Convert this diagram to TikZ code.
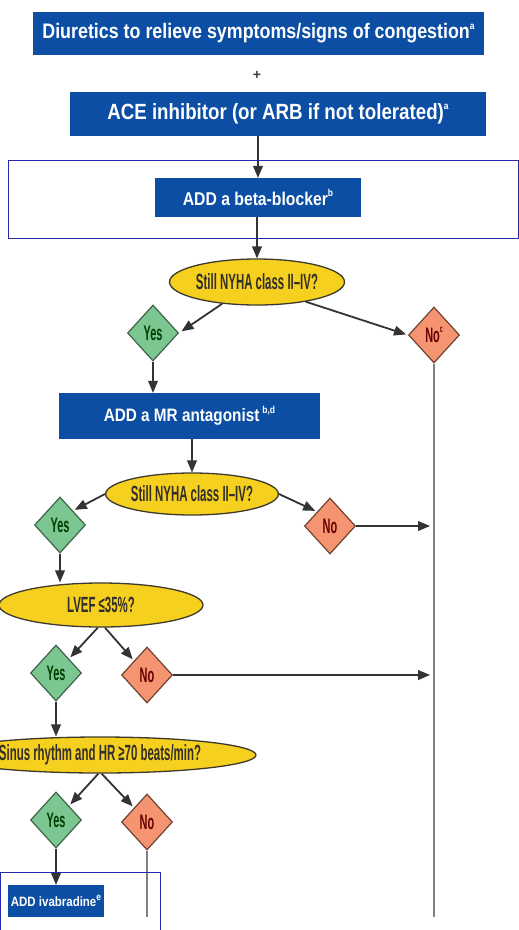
\documentclass[tikz,border=0pt]{standalone}
\usepackage{fontspec}
\usepackage{xcolor}
\setmainfont{Liberation Sans}
\newfontfamily\boxfont{Liberation Sans}[FakeStretch=0.85]
\newfontfamily\askfont{Liberation Sans}[FakeStretch=0.52]
\newcommand{\fn}[1]{\raisebox{0.45em}{\fontsize{10}{10}\selectfont #1}}
\usetikzlibrary{arrows,shapes.geometric}

\definecolor{escblue}{RGB}{12,78,164}
\definecolor{escyellow}{RGB}{246,208,30}
\definecolor{escgreen}{RGB}{124,198,146}
\definecolor{escorange}{RGB}{245,148,112}
\definecolor{markblue}{RGB}{40,40,170}

\begin{document}
\begin{tikzpicture}[x=1pt,y=-1pt]
\tikzset{box/.style={fill=escblue,text=white,inner sep=0pt}}
\tikzset{ask/.style={ellipse,draw=black!75!olive,line width=1.3pt,fill=escyellow,text=black!85!olive,inner sep=0pt,font=\askfont\bfseries\fontsize{22}{22}\selectfont}}
\tikzset{yes/.style={diamond,draw=black!50!escgreen,line width=1.2pt,fill=escgreen,text=green!25!black,inner sep=0pt,minimum width=51pt,minimum height=56pt,font=\askfont\bfseries\fontsize{21}{21}\selectfont}}
\tikzset{no/.style={diamond,draw=black!55!escorange,line width=1.2pt,fill=escorange,text=red!40!black,inner sep=0pt,minimum width=51pt,minimum height=56pt,font=\askfont\bfseries\fontsize{21}{21}\selectfont}}
\tikzset{flow/.style={-triangle 45,line width=1.8pt,draw=black!80}}
\tikzset{rail/.style={line width=1.5pt,draw=black!50}}
\tikzset{outline/.style={draw=markblue,line width=1pt}}

\clip (0,0) rectangle (519,930);

\node[box,minimum width=451pt,minimum height=43pt,font=\boxfont\bfseries\fontsize{21}{21}\selectfont] (diur) at (258.5,33.5) {Diuretics to relieve symptoms/signs of congestion\fn{a}};
\node[font=\bfseries\fontsize{14}{14}\selectfont,text=black!75] (plus) at (257,75) {+};
\node[box,minimum width=416pt,minimum height=44pt,font=\boxfont\bfseries\fontsize{22}{22}\selectfont] (ace) at (278,114) {ACE inhibitor (or ARB if not tolerated)\fn{a}};
\node[box,minimum width=206pt,minimum height=39pt,font=\boxfont\bfseries\fontsize{18.5}{18.5}\selectfont] (beta) at (258,197.5) {ADD a beta-blocker\fn{b}};
\node[ask,minimum width=175pt,minimum height=46pt] (ask1) at (257,282) {Still NYHA class II–IV?};
\node[yes] (yes1) at (153,333) {Yes};
\node[no] (no1) at (434,335) {No\fn{c}};
\node[box,minimum width=261pt,minimum height=46pt,font=\boxfont\bfseries\fontsize{18}{18}\selectfont] (mra) at (189.5,416) {ADD a MR antagonist\,\fn{b,d}};
\node[ask,minimum width=172pt,minimum height=42pt] (ask2) at (192,494) {Still NYHA class II–IV?};
\node[yes] (yes2) at (60,525) {Yes};
\node[no] (no2) at (330,526) {No};
\node[ask,minimum width=204pt,minimum height=44pt] (ask3) at (101,605) {LVEF ≤35\%?};
\node[yes] (yes3) at (56,673) {Yes};
\node[no] (no3) at (147,675) {No};
\node[ask,minimum width=312pt,minimum height=36pt] (ask4) at (100,755) {Sinus rhythm and HR ≥70 beats/min?};
\node[yes] (yes4) at (56,820) {Yes};
\node[no] (no4) at (147,822) {No};
\node[box,minimum width=96pt,minimum height=32pt,font=\boxfont\bfseries\fontsize{13.5}{13.5}\selectfont] (ivab) at (56,901) {ADD ivabradine\fn{e}};
\coordinate (end1) at (434,917);
\coordinate (end2) at (147,917);

\draw[flow] (beta |- ace.south) -- (beta.north);
\draw[flow] (beta.south -| ask1) -- (ask1.north);
\draw[flow,shorten >=3pt] (ask1.212) -- (yes1.east);
\draw[flow,shorten >=2pt] (ask1.338) -- (no1.west);
\draw[rail] (no1.south) -- (end1);
\draw[flow] (yes1.south) -- (yes1.south |- mra.north);
\draw[flow] (ask2 |- mra.south) -- (ask2.north);
\draw[flow,shorten >=2pt] (ask2.west) -- (yes2.north east);
\draw[flow,shorten >=2pt] (ask2.east) -- (no2.north west);
\draw[flow,shorten >=4pt] (no2.east) -- (no2.east -| end1);
\draw[flow] (yes2.south) -- (yes2.south |- ask3.north);
\draw[flow,shorten >=2pt] (ask3.262) -- (yes3.north east);
\draw[flow,shorten >=2pt] (ask3.280) -- (no3.north west);
\draw[flow,shorten >=4pt] (no3.east) -- (no3.east -| end1);
\draw[flow] (yes3.south) -- (yes3.south |- ask4.north);
\draw[flow,shorten >=2pt] (ask4.265) -- (yes4.north east);
\draw[flow,shorten >=2pt] (ask4.275) -- (no4.north west);
\draw[flow] (yes4.south) -- (ivab.north);
\draw[rail] (no4.south) -- (end2);

\draw[outline] (8,160) rectangle (518.5,238);
\draw[outline] (0.5,872) rectangle (160,940);
\end{tikzpicture}
\end{document}
